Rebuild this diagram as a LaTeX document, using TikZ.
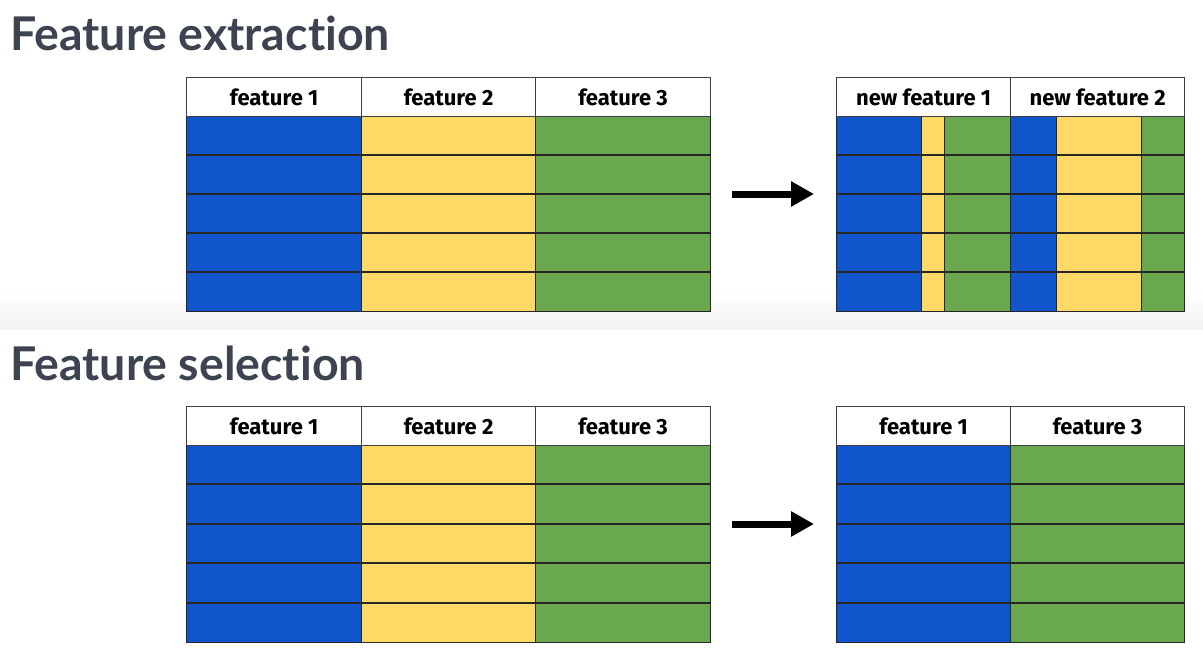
\documentclass[tikz,border=0pt]{standalone}
\usepackage{fontspec}
\setmainfont{Lato}[Ligatures={NoCommon,NoRare}]
\newfontfamily\hdrfont{Fira Sans}
\usetikzlibrary{arrows.meta}
\definecolor{cblue}{HTML}{1155CC}
\definecolor{cyellow}{HTML}{FFD966}
\definecolor{cgreen}{HTML}{6AA84F}
\definecolor{ctitle}{HTML}{3D4350}
\definecolor{cband}{HTML}{F2F2F2}
\tikzset{
  titletext/.style={anchor=base west, inner sep=0pt, font=\fontsize{46.5}{46.5}\selectfont\bfseries, text=ctitle},
  hdr/.style={draw=black!75, line width=1.2pt, fill=white, anchor=north west, minimum height=39pt, inner sep=0pt, font=\hdrfont\fontsize{22}{22}\selectfont\bfseries},
  block/.style={anchor=north west, minimum height=195pt, inner sep=0pt, draw=black!85, line width=1.2pt},
  rowline/.style={draw=black!85, line width=1.2pt},
  arr/.style={line width=7pt, -{Triangle[length=23pt,width=24pt]}}
}
\begin{document}
\begin{tikzpicture}[x=1pt,y=-1pt]
\useasboundingbox (0,0) rectangle (1203,667);
\fill[white] (0,0) rectangle (1203,667);
\shade[top color=white, bottom color=cband] (0,292) rectangle (1203,329);

% titles
\node[titletext] (title1) at (10,50) {Feature extraction};
\node[titletext] (title2) at (10,380) {Feature selection};

% ---------- top left table ----------
\node[block, fill=cblue,   minimum width=175pt] (a1) at (186,116) {};
\node[block, fill=cyellow, minimum width=174pt] (a2) at (361,116) {};
\node[block, fill=cgreen,  minimum width=175pt] (a3) at (535,116) {};
\foreach \y in {155,194,233,272} \draw[rowline] (186,\y) -- (710,\y);
\node[hdr, minimum width=175pt] (ah1) at (186,77) {feature 1};
\node[hdr, minimum width=174pt] (ah2) at (361,77) {feature 2};
\node[hdr, minimum width=175pt] (ah3) at (535,77) {feature 3};

% ---------- top right table ----------
\node[block, fill=cblue,   minimum width=85pt] (b1) at (836,116) {};
\node[block, fill=cyellow, minimum width=23pt] (b2) at (921,116) {};
\node[block, fill=cgreen,  minimum width=66pt] (b3) at (944,116) {};
\node[block, fill=cblue,   minimum width=46pt] (b4) at (1010,116) {};
\node[block, fill=cyellow, minimum width=85pt] (b5) at (1056,116) {};
\node[block, fill=cgreen,  minimum width=43pt] (b6) at (1141,116) {};
\foreach \y in {155,194,233,272} \draw[rowline] (836,\y) -- (1184,\y);
\node[hdr, minimum width=174pt] (bh1) at (836,77) {new feature 1};
\node[hdr, minimum width=174pt] (bh2) at (1010,77) {new feature 2};

% ---------- bottom left table ----------
\node[block, fill=cblue,   minimum width=175pt, minimum height=197pt] (c1) at (186,445) {};
\node[block, fill=cyellow, minimum width=174pt, minimum height=197pt] (c2) at (361,445) {};
\node[block, fill=cgreen,  minimum width=175pt, minimum height=197pt] (c3) at (535,445) {};
\foreach \y in {484,524,563,603} \draw[rowline] (186,\y) -- (710,\y);
\node[hdr, minimum width=175pt] (ch1) at (186,406) {feature 1};
\node[hdr, minimum width=174pt] (ch2) at (361,406) {feature 2};
\node[hdr, minimum width=175pt] (ch3) at (535,406) {feature 3};

% ---------- bottom right table ----------
\node[block, fill=cblue,  minimum width=174pt, minimum height=197pt] (d1) at (836,445) {};
\node[block, fill=cgreen, minimum width=174pt, minimum height=197pt] (d2) at (1010,445) {};
\foreach \y in {484,524,563,603} \draw[rowline] (836,\y) -- (1184,\y);
\node[hdr, minimum width=174pt] (dh1) at (836,406) {feature 1};
\node[hdr, minimum width=174pt] (dh2) at (1010,406) {feature 3};

% arrows
\coordinate (p1s) at (732,194);
\coordinate (p1e) at (814,194);
\draw[arr] (p1s) -- (p1e);
\coordinate (p2s) at (732,524);
\coordinate (p2e) at (814,524);
\draw[arr] (p2s) -- (p2e);
\end{tikzpicture}
\end{document}
